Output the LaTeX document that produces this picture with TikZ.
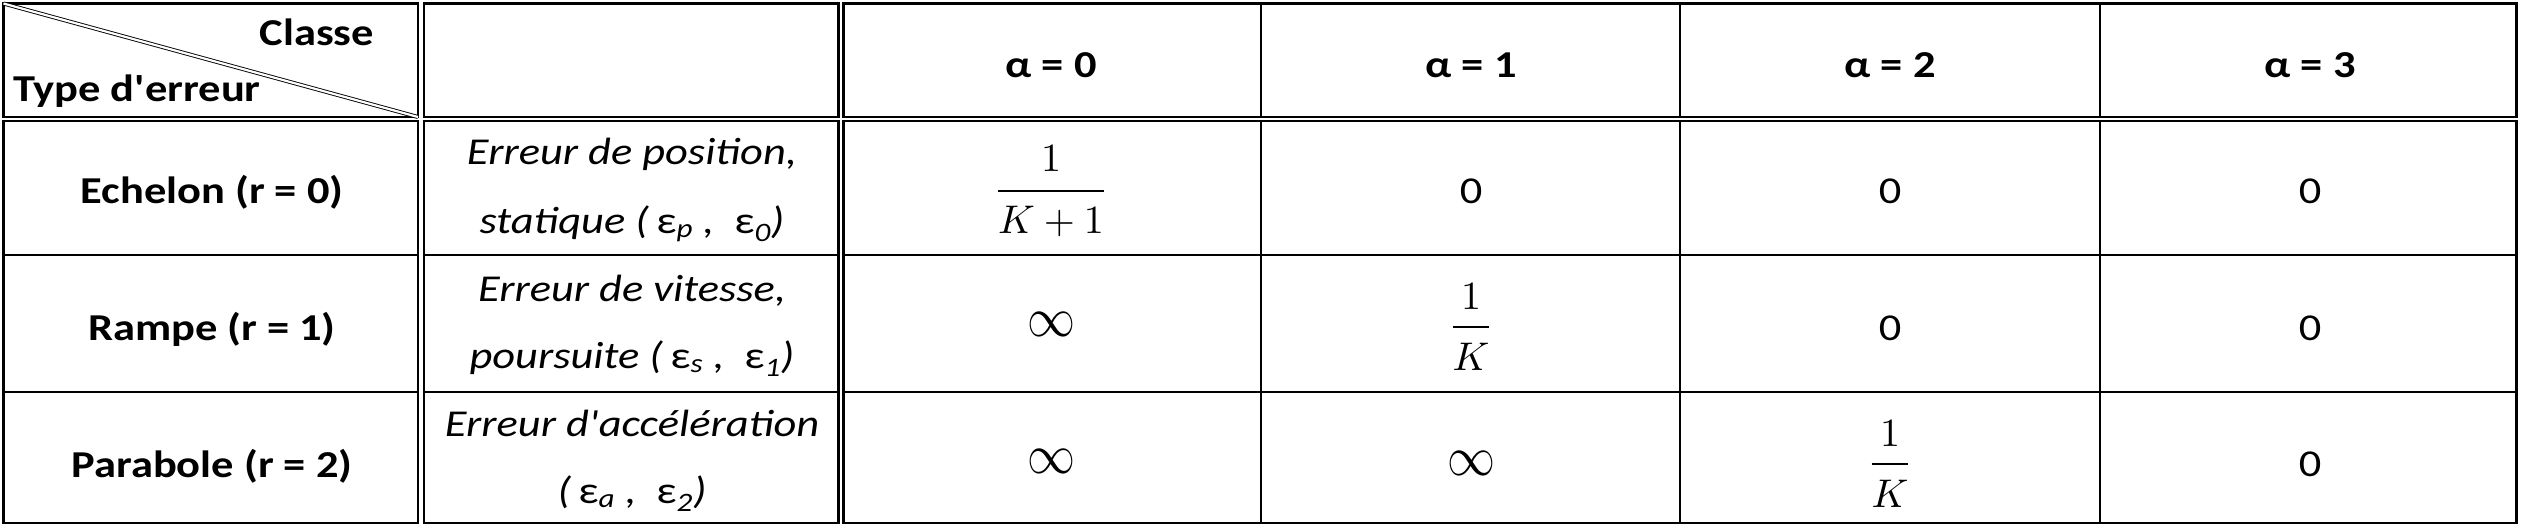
\documentclass[tikz,border=0pt]{standalone}
\usepackage{fontspec}
\setmainfont{Carlito}
\usepackage{graphicx}
\newcommand\hstr[1]{\scalebox{1.17}[1]{#1}}
\newcommand\MthX[1]{\scalebox{4}{$#1$}}
\newcommand\InfX{\scalebox{4.8}[5.6]{$\infty$}}
\tikzset{
  boxln/.style={line width=2.7pt},
  hrule/.style={line width=2.2pt},
  vrule/.style={line width=1.6pt},
  diag/.style={double, double distance=2.2pt, line width=0.9pt},
  txt/.style={inner sep=0pt, outer sep=0pt, font=\fontsize{38}{46}\selectfont},
  bold/.style={txt, font=\fontsize{38}{46}\selectfont\bfseries},
  ital/.style={txt, font=\fontsize{38}{46}\selectfont\itshape},
  mth/.style={inner sep=0pt, outer sep=0pt},
  fbar/.style={line width=2pt},
}
\begin{document}
\begin{tikzpicture}[x=1pt,y=-1pt]
\useasboundingbox (0,0) rectangle (2522,528);
% boxes
\draw[boxln] (3.5,3.5) rectangle (418,117);
\draw[boxln] (3.5,121) rectangle (418,523);
\draw[boxln] (424,3.5) rectangle (838.5,117);
\draw[boxln] (424,121) rectangle (838.5,523);
\draw[boxln] (843.5,3.5) rectangle (2516.5,117);
\draw[boxln] (843.5,121) rectangle (2516.5,523);
% inner vertical lines
\foreach \x in {1261,1680,2100}{
  \draw[vrule] (\x,3.5) -- (\x,117);
  \draw[vrule] (\x,121) -- (\x,523);
}
% inner horizontal lines
\foreach \y in {255,392}{
  \draw[hrule] (3.5,\y) -- (418,\y);
  \draw[hrule] (424,\y) -- (838.5,\y);
  \draw[hrule] (843.5,\y) -- (2516.5,\y);
}
% diagonal
\draw[diag] (3.5,3.5) -- (418,117);
% header texts
\node[bold, anchor=base east] (classe) at (374,45) {\hstr{Classe}};
\node[bold, anchor=base west] (typeerr) at (13,101) {\hstr{Type d\textquotesingle erreur}};
\node[bold] (a0) at (1051,65) {\hstr{α = 0}};
\node[bold] (a1) at (1471,65) {\hstr{α = 1}};
\node[bold] (a2) at (1890,65) {\hstr{α = 2}};
\node[bold] (a3) at (2310,65) {\hstr{α = 3}};
% row labels
\node[bold, anchor=base] (r0) at (212,203) {\hstr{Echelon (r = 0)}};
\node[bold, anchor=base] (r1) at (212,340) {\hstr{Rampe (r = 1)}};
\node[bold, anchor=base] (r2) at (212,477) {\hstr{Parabole (r = 2)}};
% descriptions
\node[ital, anchor=base] (d0a) at (632,164) {\hstr{Erreur de position,}};
\node[ital, anchor=base] (d0b) at (632,233) {\hstr{statique (\,{\upshape ε}\textsubscript{p} ,\hspace{0.45em}{\upshape ε}\textsubscript{0})}};
\node[ital, anchor=base] (d1a) at (632,301) {\hstr{Erreur de vitesse,}};
\node[ital, anchor=base] (d1b) at (632,368) {\hstr{poursuite (\,{\upshape ε}\textsubscript{s} ,\hspace{0.45em}{\upshape ε}\textsubscript{1})}};
\node[ital, anchor=base] (d2a) at (632,436) {\hstr{Erreur d\textquotesingle accélération}};
\node[ital, anchor=base] (d2b) at (632,503) {\hstr{(\,{\upshape ε}\textsubscript{a} ,\hspace{0.45em}{\upshape ε}\textsubscript{2})}};
% fraction helpers
\coordinate (bar0) at (0,191);
\coordinate (bar1) at (0,327);
\coordinate (bar2) at (0,464);
% column alpha = 0
\node[mth, anchor=base] (f0n) at (1051,171) {\MthX{1}};
\node[mth, anchor=base] (f0d) at (1051,233) {\MthX{K+1}};
\draw[fbar] (f0d.west |- bar0) -- (f0d.east |- bar0);
\node[mth] (v10) at (1051,324) {\InfX};
\node[mth] (v20) at (1051,461) {\InfX};
% column alpha = 1
\node[txt, anchor=base] (v01) at (1471,203) {\hstr{0}};
\node[mth, anchor=base] (f1n) at (1471,309) {\MthX{1}};
\node[mth, anchor=base] (f1d) at (1471,370) {\MthX{K}};
\draw[fbar] (f1d.west |- bar1) -- (f1d.east |- bar1);
\node[mth] (v21) at (1471,463) {\InfX};
% column alpha = 2
\node[txt, anchor=base] (v02) at (1890,203) {\hstr{0}};
\node[txt, anchor=base] (v12) at (1890,340) {\hstr{0}};
\node[mth, anchor=base] (f2n) at (1890,446) {\MthX{1}};
\node[mth, anchor=base] (f2d) at (1890,507) {\MthX{K}};
\draw[fbar] (f2d.west |- bar2) -- (f2d.east |- bar2);
% column alpha = 3
\node[txt, anchor=base] (v03) at (2310,203) {\hstr{0}};
\node[txt, anchor=base] (v13) at (2310,340) {\hstr{0}};
\node[txt, anchor=base] (v23) at (2310,476) {\hstr{0}};
\end{tikzpicture}
\end{document}
